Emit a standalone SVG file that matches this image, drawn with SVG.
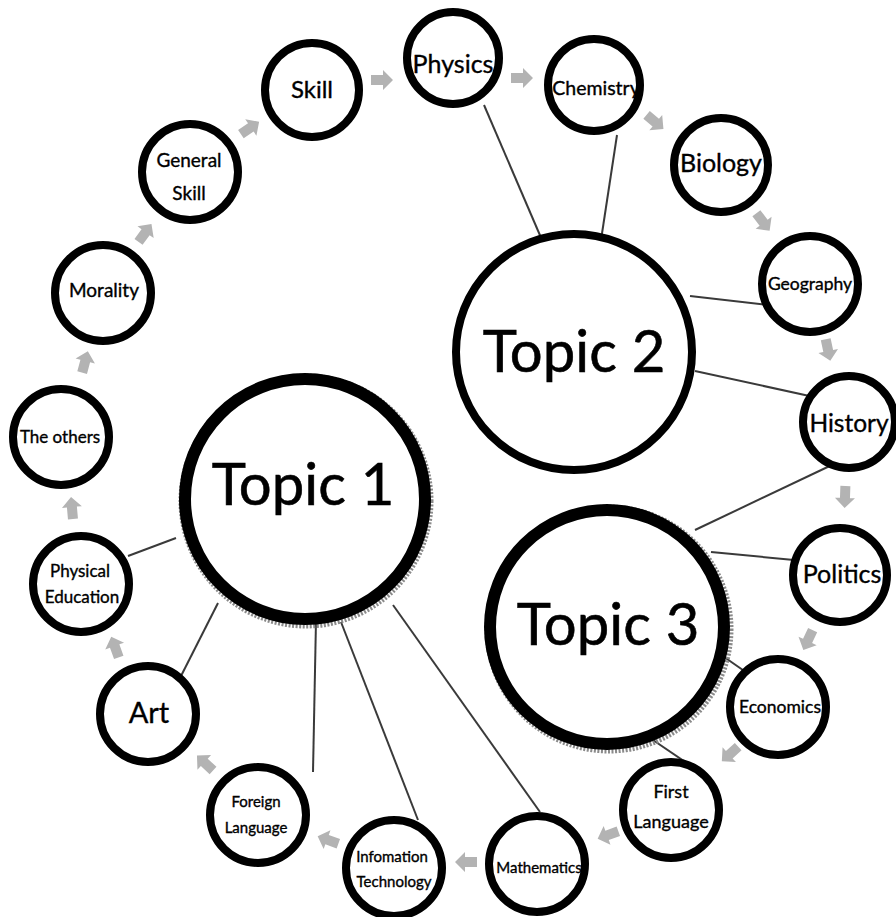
<svg xmlns="http://www.w3.org/2000/svg" width="896" height="917" viewBox="0 0 896 917">
<style>
.n{fill:#fff;stroke:#000;stroke-width:8}
.t{font-family:Lato,"Open Sans","Liberation Sans",sans-serif;fill:#000;text-anchor:middle;stroke:#000;stroke-width:0.35}
.big{font-size:58px;stroke-width:0.6}
.halo{fill:none;stroke:#8a8a8a;stroke-width:7;stroke-dasharray:2 1.5}
.c{stroke:#3a3a3a;stroke-width:2;fill:none}
.a{fill:#b3b3b3}
</style>
<defs>
<polygon id="arr" points="-11,-5 1,-5 1,-10 11,0 1,10 1,5 -11,5"/>
</defs>
<rect width="896" height="917" fill="#fff"/>
<g id="connectors">
<line class="c" x1="484" y1="105" x2="542" y2="240"/>
<line class="c" x1="617" y1="135" x2="601" y2="240"/>
<line class="c" x1="690" y1="296" x2="776" y2="306"/>
<line class="c" x1="695" y1="371" x2="814" y2="397"/>
<line class="c" x1="836" y1="463" x2="695" y2="530"/>
<line class="c" x1="711" y1="552" x2="794" y2="560"/>
<line class="c" x1="717" y1="652" x2="750" y2="675"/>
<line class="c" x1="650" y1="738" x2="700" y2="772"/>
<line class="c" x1="128" y1="556" x2="176" y2="538"/>
<line class="c" x1="218" y1="603" x2="181" y2="676"/>
<line class="c" x1="316" y1="620" x2="313" y2="772"/>
<line class="c" x1="341" y1="622" x2="418" y2="820"/>
<line class="c" x1="393" y1="605" x2="540" y2="812"/>
</g>
<g id="arrows" class="a">
<use href="#arr" transform="translate(382,80) rotate(0)"/>
<use href="#arr" transform="translate(522,78) rotate(0)"/>
<use href="#arr" transform="translate(655,122) rotate(40)"/>
<use href="#arr" transform="translate(763,222) rotate(53)"/>
<use href="#arr" transform="translate(828,350) rotate(78)"/>
<use href="#arr" transform="translate(845,497) rotate(92)"/>
<use href="#arr" transform="translate(808,640) rotate(115)"/>
<use href="#arr" transform="translate(730,754) rotate(138)"/>
<use href="#arr" transform="translate(608,835) rotate(160)"/>
<use href="#arr" transform="translate(466,862) rotate(180)"/>
<use href="#arr" transform="translate(328,840) rotate(200)"/>
<use href="#arr" transform="translate(205,763) rotate(223)"/>
<use href="#arr" transform="translate(115,647) rotate(250)"/>
<use href="#arr" transform="translate(72,508) rotate(265)"/>
<use href="#arr" transform="translate(85,362) rotate(285)"/>
<use href="#arr" transform="translate(145,233) rotate(306)"/>
<use href="#arr" transform="translate(250,128) rotate(326)"/>
</g>
<g id="topic1">
<circle class="halo" cx="306" cy="501" r="124"/>
<circle class="n" cx="305" cy="499" r="120" style="stroke-width:12"/>
<text class="t big" x="303" y="505">Topic 1</text>
</g>
<g id="topic2">
<circle class="n" cx="574" cy="352" r="118"/>
<text class="t big" x="574" y="372">Topic 2</text>
</g>
<g id="topic3">
<circle class="halo" cx="609" cy="629" r="121"/>
<circle class="n" cx="607" cy="627" r="117" style="stroke-width:12"/>
<text class="t big" x="608" y="645">Topic 3</text>
</g>
<g id="skill"><circle class="n" cx="312" cy="90" r="47"/><text class="t" x="312" y="98" font-size="24">Skill</text></g>
<g id="physics"><circle class="n" cx="453" cy="58" r="46"/><text class="t" x="453" y="73" font-size="25">Physics</text></g>
<g id="chemistry"><circle class="n" cx="594" cy="85" r="46"/><text class="t" x="596" y="95" font-size="19.5">Chemistry</text></g>
<g id="biology"><circle class="n" cx="721" cy="165" r="47"/><text class="t" x="721" y="172" font-size="25">Biology</text></g>
<g id="geography"><circle class="n" cx="810" cy="284" r="48"/><text class="t" x="810" y="290" font-size="17.5">Geography</text></g>
<g id="history"><circle class="n" cx="849" cy="422" r="46"/><text class="t" x="849" y="432" font-size="24.5">History</text></g>
<g id="politics"><circle class="n" cx="840" cy="575" r="47"/><text class="t" x="842" y="583" font-size="25">Politics</text></g>
<g id="economics"><circle class="n" cx="778" cy="707" r="48"/><text class="t" x="780" y="713" font-size="17.5">Economics</text></g>
<g id="first-language"><circle class="n" cx="671" cy="810" r="48"/><text class="t" x="671" y="798" font-size="18">First</text><text class="t" x="671" y="828" font-size="18">Language</text></g>
<g id="mathematics"><circle class="n" cx="537" cy="864" r="48"/><text class="t" x="539" y="873" font-size="15">Mathematics</text></g>
<g id="infomation-technology"><circle class="n" cx="394" cy="868" r="48"/><text class="t" x="392" y="862" font-size="15">Infomation</text><text class="t" x="394" y="887" font-size="15">Technology</text></g>
<g id="foreign-language"><circle class="n" cx="258" cy="815" r="48"/><text class="t" x="256" y="807" font-size="15">Foreign</text><text class="t" x="256" y="833" font-size="15">Language</text></g>
<g id="art"><circle class="n" cx="148" cy="714" r="48"/><text class="t" x="149" y="723" font-size="29">Art</text></g>
<g id="physical-education"><circle class="n" cx="81" cy="584" r="48"/><text class="t" x="80" y="577" font-size="17">Physical</text><text class="t" x="82" y="603" font-size="17">Education</text></g>
<g id="the-others"><circle class="n" cx="61" cy="437" r="48"/><text class="t" x="60" y="443" font-size="17">The others</text></g>
<g id="morality"><circle class="n" cx="103" cy="293" r="48"/><text class="t" x="104" y="297" font-size="19">Morality</text></g>
<g id="general-skill"><circle class="n" cx="190" cy="172" r="48"/><text class="t" x="189" y="167" font-size="19">General</text><text class="t" x="189" y="200" font-size="19">Skill</text></g>
</svg>
